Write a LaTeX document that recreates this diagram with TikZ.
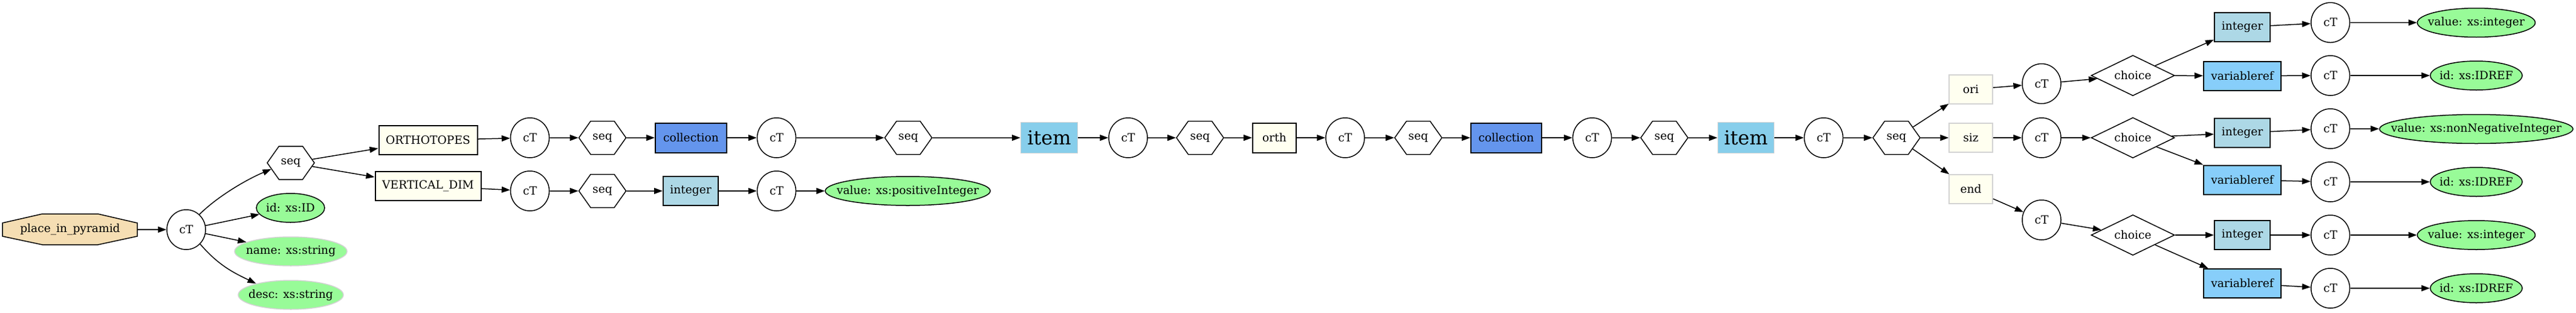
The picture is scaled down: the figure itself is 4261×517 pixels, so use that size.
\documentclass[tikz,border=0pt]{standalone}
\usepackage{fontspec}
\setmainfont{DejaVu Serif}
\usetikzlibrary{shapes.geometric,shapes.symbols,arrows.meta}
\definecolor{wheatc}{HTML}{F5DEB3}
\definecolor{palegreenc}{HTML}{98FB98}
\definecolor{cornflowerc}{HTML}{6495ED}
\definecolor{lightbluec}{HTML}{ADD8E6}
\definecolor{skybluec}{HTML}{87CEEB}
\definecolor{ivoryc}{HTML}{FFFFF0}
\definecolor{lskybluec}{HTML}{87CEFA}
\definecolor{lgrayc}{HTML}{D3D3D3}
\newcommand{\mkz}[1]{\makebox[0pt]{#1}}
\begin{document}
\begin{tikzpicture}[x=1pt,y=-1pt,
  every node/.style={font=\fontsize{18.67}{22}\selectfont, inner sep=0pt, line width=1.5pt},
  ctnode/.style={ellipse, draw, minimum width=64pt, minimum height=66pt},
  seqnode/.style={signal, signal to=east and west, signal pointer angle=109.4, draw, minimum width=78pt, minimum height=55pt},
  choicenode/.style={diamond, draw, aspect=2, minimum width=138pt, minimum height=67pt},
  attrnode/.style={ellipse, draw, fill=palegreenc, minimum height=48pt},
  optattr/.style={ellipse, draw=lgrayc, fill=palegreenc, minimum height=48pt},
  elemnode/.style={rectangle, draw, line width=2pt, fill=ivoryc, minimum height=48pt},
  optelem/.style={rectangle, draw=lgrayc, fill=ivoryc, minimum height=48pt},
  collnode/.style={rectangle, draw, line width=2pt, fill=cornflowerc, minimum height=49pt},
  intnode/.style={rectangle, draw, line width=2pt, fill=lightbluec, minimum width=92pt, minimum height=48pt},
  varnode/.style={rectangle, draw, line width=2pt, fill=lskybluec, minimum width=128pt, minimum height=48pt},
  itemnode/.style={rectangle, draw=lgrayc, fill=skybluec, minimum width=94pt, minimum height=51pt, font=\fontsize{32}{36}\selectfont},
  edge/.style={line width=1.5pt, -{Triangle[length=14pt,width=10pt]}}]
\useasboundingbox (0,0) rectangle (4261,517);
% root octagon
\draw[line width=1.5pt, fill=wheatc] (4,369) -- (70,354) -- (162,354) -- (227,369) -- (227,391) -- (162,405) -- (70,405) -- (4,391) -- cycle;
\node[minimum width=223pt, minimum height=51pt] (pip) at (116,380) {place\_in\_pyramid};
\node[ctnode] (ct1) at (308,380) {cT};
\node[seqnode] (seq1) at (481,269.5) {\mkz{seq}};
\node[attrnode, minimum width=113pt] (id1) at (480.5,344) {\mkz{id: xs:ID}};
\node[optattr, minimum width=186pt] (name) at (481,416) {\mkz{name: xs:string}};
\node[optattr, minimum width=174pt] (desc) at (481,488) {\mkz{desc: xs:string}};
\node[elemnode, minimum width=163pt] (ortho) at (708,232) {ORTHOTOPES};
\node[elemnode, minimum width=175pt] (vdim) at (708,308) {VERTICAL\_DIM};
\node[ctnode] (ct2) at (876.5,228) {cT};
\node[seqnode] (seq2) at (996.5,228) {\mkz{seq}};
\node[collnode, minimum width=118pt] (coll1) at (1143,228) {collection};
\node[ctnode] (ct3) at (1284.5,228) {cT};
\node[ctnode] (ct2b) at (876.5,316) {cT};
\node[seqnode] (seq2b) at (996.5,316) {\mkz{seq}};
\node[intnode, minimum width=91pt] (int1) at (1142.5,316) {integer};
\node[ctnode] (ct3b) at (1284.5,316) {cT};
\node[attrnode, minimum width=273pt] (vpi) at (1501.5,316) {\mkz{value: xs:positiveInteger}};
\node[seqnode] (seq3) at (1502.5,228) {\mkz{seq}};
\node[itemnode] (item1) at (1735.5,228) {item};
\node[ctnode] (ct4) at (1866,228) {cT};
\node[seqnode] (seq4) at (1985,228) {\mkz{seq}};
\node[elemnode, minimum width=72pt, minimum height=49pt] (orth) at (2108,228) {orth};
\node[ctnode] (ct5) at (2225,228) {cT};
\node[seqnode] (seq5) at (2346,228) {\mkz{seq}};
\node[collnode, minimum width=117pt] (coll2) at (2491.5,228) {collection};
\node[ctnode] (ct6) at (2633.6,228) {cT};
\node[seqnode] (seq6) at (2753,228) {\mkz{seq}};
\node[itemnode, minimum width=93pt] (item2) at (2888,228) {item};
\node[ctnode] (ct7) at (3016.5,228) {cT};
\node[seqnode] (seq7) at (3137,228) {\mkz{seq}};
\node[optelem, minimum width=72pt] (ori) at (3260,148) {ori};
\node[optelem, minimum width=72pt] (siz) at (3260,228) {siz};
\node[optelem, minimum width=72pt] (endn) at (3260,313) {end};
\node[ctnode] (ctA) at (3377,138.5) {cT};
\node[ctnode] (ctB) at (3377,228) {cT};
\node[ctnode] (ctC) at (3377,364) {cT};
\node[choicenode] (chA) at (3528,125) {\mkz{choice}};
\node[choicenode] (chB) at (3528,228) {\mkz{choice}};
\node[choicenode] (chC) at (3528,389) {\mkz{choice}};
\node[intnode] (intA) at (3709,45) {integer};
\node[varnode] (varA) at (3709,125.5) {variableref};
\node[intnode] (intB) at (3709,220) {integer};
\node[varnode] (varB) at (3709,297.5) {variableref};
\node[intnode] (intC) at (3709,389) {integer};
\node[varnode] (varC) at (3709,469) {variableref};
\node[ctnode] (ctA1) at (3854.7,37.3) {cT};
\node[ctnode] (ctA2) at (3854.7,125) {cT};
\node[ctnode] (ctB1) at (3854.7,213) {cT};
\node[ctnode] (ctB2) at (3854.7,301) {cT};
\node[ctnode] (ctC1) at (3854.7,389) {cT};
\node[ctnode] (ctC2) at (3854.7,477) {cT};
\node[attrnode, minimum width=195pt] (vA) at (4096,37.5) {\mkz{value: xs:integer}};
\node[attrnode, minimum width=152pt] (iA) at (4096,125) {\mkz{id: xs:IDREF}};
\node[attrnode, minimum width=320pt] (vB) at (4096,213.5) {\mkz{value: xs:nonNegativeInteger}};
\node[attrnode, minimum width=152pt] (iB) at (4096,301) {\mkz{id: xs:IDREF}};
\node[attrnode, minimum width=195pt] (vC) at (4096,389) {\mkz{value: xs:integer}};
\node[attrnode, minimum width=152pt] (iC) at (4096,477) {\mkz{id: xs:IDREF}};
% edges
\draw[edge] (pip) -- (ct1);
\draw[edge] (ct1.49) .. controls (361,324) and (410,296) .. (seq1.198);
\draw[edge] (ct1) -- (id1);
\draw[edge] (ct1) -- (name);
\draw[edge] (ct1.-46) .. controls (362,440) and (388,452) .. (desc.162);
\draw[edge] (seq1) -- (ortho);
\draw[edge] (seq1) -- (vdim);
\draw[edge] (ortho) -- (ct2);
\draw[edge] (ct2) -- (seq2);
\draw[edge] (seq2) -- (coll1);
\draw[edge] (coll1) -- (ct3);
\draw[edge] (ct3) -- (seq3);
\draw[edge] (vdim) -- (ct2b);
\draw[edge] (ct2b) -- (seq2b);
\draw[edge] (seq2b) -- (int1);
\draw[edge] (int1) -- (ct3b);
\draw[edge] (ct3b) -- (vpi);
\draw[edge] (seq3) -- (item1);
\draw[edge] (item1) -- (ct4);
\draw[edge] (ct4) -- (seq4);
\draw[edge] (seq4) -- (orth);
\draw[edge] (orth) -- (ct5);
\draw[edge] (ct5) -- (seq5);
\draw[edge] (seq5) -- (coll2);
\draw[edge] (coll2) -- (ct6);
\draw[edge] (ct6) -- (seq6);
\draw[edge] (seq6) -- (item2);
\draw[edge] (item2) -- (ct7);
\draw[edge] (ct7) -- (seq7);
\draw[edge] (seq7) -- (ori);
\draw[edge] (seq7) -- (siz);
\draw[edge] (seq7) -- (endn);
\draw[edge] (ori) -- (ctA);
\draw[edge] (siz) -- (ctB);
\draw[edge] (endn) -- (ctC);
\draw[edge] (ctA) -- (chA);
\draw[edge] (ctB) -- (chB);
\draw[edge] (ctC) -- (chC);
\draw[edge] (chA) -- (intA);
\draw[edge] (chA) -- (varA);
\draw[edge] (chB) -- (intB);
\draw[edge] (chB) -- (varB);
\draw[edge] (chC) -- (intC);
\draw[edge] (chC) -- (varC);
\draw[edge] (intA) -- (ctA1);
\draw[edge] (varA) -- (ctA2);
\draw[edge] (intB) -- (ctB1);
\draw[edge] (varB) -- (ctB2);
\draw[edge] (intC) -- (ctC1);
\draw[edge] (varC) -- (ctC2);
\draw[edge] (ctA1) -- (vA);
\draw[edge] (ctA2) -- (iA);
\draw[edge] (ctB1) -- (vB);
\draw[edge] (ctB2) -- (iB);
\draw[edge] (ctC1) -- (vC);
\draw[edge] (ctC2) -- (iC);
\end{tikzpicture}
\end{document}
